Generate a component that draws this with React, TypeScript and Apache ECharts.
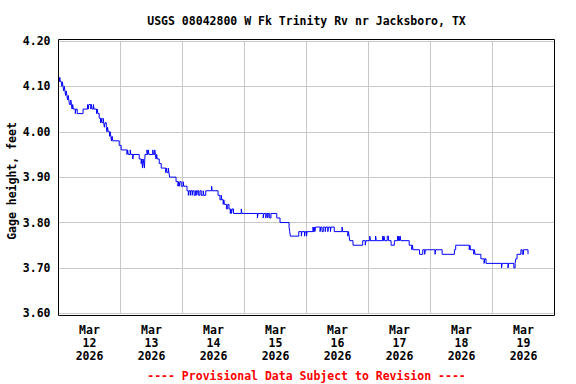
import React, { useEffect, useRef } from "react";
import * as echarts from "echarts";

const TITLE = "USGS 08042800 W Fk Trinity Rv nr Jacksboro, TX";
const Y_NAME = "Gage height, feet";
const FOOTER = "---- Provisional Data Subject to Revision ----";
const DAY_LABELS = [
  "Mar\n12\n2026",
  "Mar\n13\n2026",
  "Mar\n14\n2026",
  "Mar\n15\n2026",
  "Mar\n16\n2026",
  "Mar\n17\n2026",
  "Mar\n18\n2026",
  "Mar\n19\n2026",
];
const Y_MIN = 3.6;
const Y_MAX = 4.2;
const Y_STEP = 0.1;
const X_HOURS = 192; // Mar 12 00:00 .. Mar 20 00:00
const X_STEP = 24;

// hours since Mar 12 2026 00:00 at which the gage height changed
const changeHours = [
  0, 0.25, 0.5, 0.75, 1.25, 1.5, 1.75, 2.0, 2.25, 2.5, 2.75, 3.0, 3.25, 3.5, 3.75, 4.0, 4.25, 4.75, 5.0, 5.25,
  5.5, 5.75, 6.5, 6.75, 7.25, 9.5, 11.25, 11.5, 11.75, 12.5, 12.75, 13.0, 13.5, 13.75, 14.75, 15.0, 15.25, 15.75,
  16.25, 16.5, 16.75, 17.25, 17.5, 17.75, 18.0, 18.5, 18.75, 19.0, 19.25, 19.75, 20.0, 20.25, 20.5, 20.75, 21.0,
  23.5, 24.25, 26.5, 26.75, 27.0, 27.75, 28.0, 28.75, 29.0, 31.25, 32.0, 32.25, 32.5, 32.75, 33.0, 33.25, 33.5,
  34.25, 34.5, 34.75, 35.0, 36.5, 36.75, 37.25, 37.5, 37.75, 38.0, 38.25, 39.0, 39.75, 41.5, 41.75, 42.0, 42.5,
  42.75, 43.0, 45.5, 46.25, 46.5, 46.75, 47.0, 47.5, 48.25, 48.5, 49.75, 50.25, 50.5, 51.0, 51.25, 51.75, 52.0,
  52.5, 53.0, 53.5, 53.75, 54.25, 54.75, 55.25, 56.0, 56.25, 57.0, 59.25, 59.5, 61.75, 62.5, 63.0, 63.25, 63.75,
  64.0, 64.25, 65.0, 65.5, 66.0, 66.5, 66.75, 67.0, 67.25, 67.75, 70.75, 71.0, 77.0, 77.25, 79.25, 79.5, 80.25,
  80.5, 81.0, 81.25, 81.75, 82.25, 84.5, 85.75, 89.25, 89.5, 89.75, 93.0, 94.0, 94.25, 95.25, 95.5, 96.0, 96.25,
  98.5, 98.75, 99.0, 99.25, 99.5, 101.25, 101.5, 102.0, 102.5, 103.25, 103.5, 104.25, 104.5, 105.25, 105.5,
  106.75, 109.75, 110.0, 112.0, 112.25, 112.5, 112.75, 114.0, 117.75, 118.75, 119.0, 120.5, 120.75, 122.75,
  123.0, 125.5, 125.75, 126.0, 126.25, 127.25, 127.75, 128.75, 130.0, 131.25, 131.5, 131.75, 132.0, 132.25,
  132.5, 135.75, 136.75, 137.0, 137.25, 139.75, 141.0, 141.75, 142.0, 145.75, 146.0, 148.5, 153.25, 153.75,
  159.0, 159.25, 159.5, 160.75, 161.0, 161.25, 163.5, 164.75, 165.0, 165.5, 171.5, 171.75, 174.0, 174.25,
  176.25, 176.75, 177.0, 177.5, 179.0, 179.5, 180.0, 181.75, 182.0,
];

// gage height (feet) from each change time onward
const changeValues = [
  4.12, 4.11, 4.12, 4.11, 4.1, 4.11, 4.1, 4.09, 4.1, 4.09, 4.08, 4.09, 4.08, 4.07, 4.08, 4.07, 4.06, 4.07, 4.06, 4.05,
  4.06, 4.05, 4.04, 4.05, 4.04, 4.05, 4.06, 4.05, 4.06, 4.05, 4.06, 4.05, 4.06, 4.05, 4.04, 4.05, 4.04, 4.03,
  4.02, 4.03, 4.02, 4.03, 4.02, 4.01, 4.02, 4.01, 4.0, 4.01, 4.0, 3.99, 4.0, 3.99, 3.98, 3.99, 3.98,
  3.97, 3.96, 3.95, 3.96, 3.95, 3.96, 3.95, 3.94, 3.95, 3.94, 3.93, 3.94, 3.92, 3.94, 3.93, 3.92, 3.95,
  3.96, 3.95, 3.96, 3.95, 3.96, 3.95, 3.96, 3.95, 3.94, 3.95, 3.94, 3.93, 3.92, 3.91, 3.92, 3.91, 3.92,
  3.91, 3.9, 3.89, 3.88, 3.89, 3.88, 3.89, 3.88, 3.89, 3.88, 3.87, 3.86, 3.87, 3.86, 3.87, 3.86, 3.87,
  3.86, 3.87, 3.86, 3.87, 3.86, 3.87, 3.86, 3.87, 3.86, 3.87, 3.88, 3.87, 3.86, 3.85, 3.86, 3.85, 3.84,
  3.85, 3.84, 3.83, 3.84, 3.83, 3.82, 3.83, 3.82, 3.83, 3.82, 3.83, 3.82, 3.81, 3.82, 3.81, 3.82, 3.81,
  3.82, 3.81, 3.82, 3.81, 3.82, 3.81, 3.8, 3.79, 3.78, 3.77, 3.78, 3.77, 3.78, 3.77, 3.78, 3.77, 3.78,
  3.79, 3.78, 3.79, 3.78, 3.79, 3.78, 3.79, 3.78, 3.79, 3.78, 3.79, 3.78, 3.79, 3.78, 3.79,
  3.78, 3.79, 3.78, 3.77, 3.78, 3.77, 3.76, 3.75, 3.76, 3.75, 3.76, 3.77, 3.76, 3.77,
  3.76, 3.77, 3.76, 3.77, 3.76, 3.77, 3.76, 3.75, 3.76, 3.77, 3.76, 3.77, 3.76, 3.77,
  3.76, 3.75, 3.74, 3.75, 3.74, 3.73, 3.74, 3.73, 3.74, 3.73, 3.74, 3.73, 3.74, 3.75,
  3.74, 3.75, 3.74, 3.73, 3.74, 3.73, 3.72, 3.71, 3.72, 3.71, 3.7, 3.71, 3.7, 3.71,
  3.7, 3.71, 3.72, 3.73, 3.74, 3.73, 3.74, 3.73, 3.73,
];

const FONT = '"DejaVu Sans Mono", "Liberation Mono", monospace';
const FONT_SIZE = 11.5;

export default function App() {
  const ref = useRef<HTMLDivElement>(null);

  useEffect(() => {
    if (!ref.current) return;
    const chart = echarts.init(ref.current, undefined, { renderer: "svg" });
    const data = changeHours.map((h, i) => [h, changeValues[i]]);
    const gridLeft = 58.5;
    const gridTop = 41;
    const gridWidth = 496;
    const gridHeight = 272.3;
    const centerX = gridLeft + gridWidth / 2;

    chart.setOption({
      animation: false,
      backgroundColor: "#ffffff",
      textStyle: { fontFamily: FONT },
      grid: { left: gridLeft, top: gridTop, width: gridWidth, height: gridHeight, containLabel: false },
      xAxis: [
        {
          type: "value",
          min: 0,
          max: X_HOURS,
          interval: X_STEP,
          axisLine: { show: false },
          axisTick: { show: false },
          axisLabel: { show: false },
          splitLine: { show: true, lineStyle: { color: "#c8c8c8", width: 1 } },
        },
        {
          type: "category",
          data: DAY_LABELS,
          boundaryGap: true,
          position: "bottom",
          axisLine: { show: false },
          axisTick: { show: false },
          splitLine: { show: false },
          axisLabel: {
            interval: 0,
            margin: 10,
            lineHeight: 13,
            fontFamily: FONT,
            fontSize: FONT_SIZE,
            fontWeight: "bold",
            color: "#000000",
          },
        },
      ],
      yAxis: {
        type: "value",
        min: Y_MIN,
        max: Y_MAX,
        interval: Y_STEP,
        axisLine: { show: false },
        axisTick: { show: false },
        axisLabel: {
          margin: 8,
          fontFamily: FONT,
          fontSize: FONT_SIZE,
          fontWeight: "bold",
          color: "#000000",
          formatter: (v: number) => v.toFixed(2),
        },
        splitLine: { show: true, lineStyle: { color: "#c8c8c8", width: 1 } },
      },
      series: [
        {
          type: "line",
          xAxisIndex: 0,
          data,
          step: "end",
          symbol: "none",
          silent: true,
          lineStyle: { color: "#0000ff", width: 1 },
        },
      ],
      graphic: [
        {
          type: "rect",
          z: 100,
          silent: true,
          shape: { x: 58.5, y: 39.5, width: 496, height: 276 },
          style: { fill: "none", stroke: "#000000", lineWidth: 1 },
        },
        {
          type: "text",
          x: centerX,
          y: 21,
          silent: true,
          style: {
            text: TITLE,
            textAlign: "center",
            textVerticalAlign: "middle",
            fill: "#000000",
            font: `bold ${FONT_SIZE}px ${FONT}`,
          },
        },
        {
          type: "text",
          x: 12,
          y: 181,
          rotation: Math.PI / 2,
          silent: true,
          style: {
            text: Y_NAME,
            textAlign: "center",
            textVerticalAlign: "middle",
            fill: "#000000",
            font: `bold ${FONT_SIZE}px ${FONT}`,
          },
        },
        {
          type: "text",
          x: centerX,
          y: 376,
          silent: true,
          style: {
            text: FOOTER,
            textAlign: "center",
            textVerticalAlign: "middle",
            fill: "#ff0000",
            font: `bold ${FONT_SIZE}px ${FONT}`,
          },
        },
      ],
    });

    return () => chart.dispose();
  }, []);

  return (
    <div
      ref={ref}
      style={{ position: "fixed", left: 0, top: 0, width: 576, height: 384, background: "#ffffff" }}
    />
  );
}
